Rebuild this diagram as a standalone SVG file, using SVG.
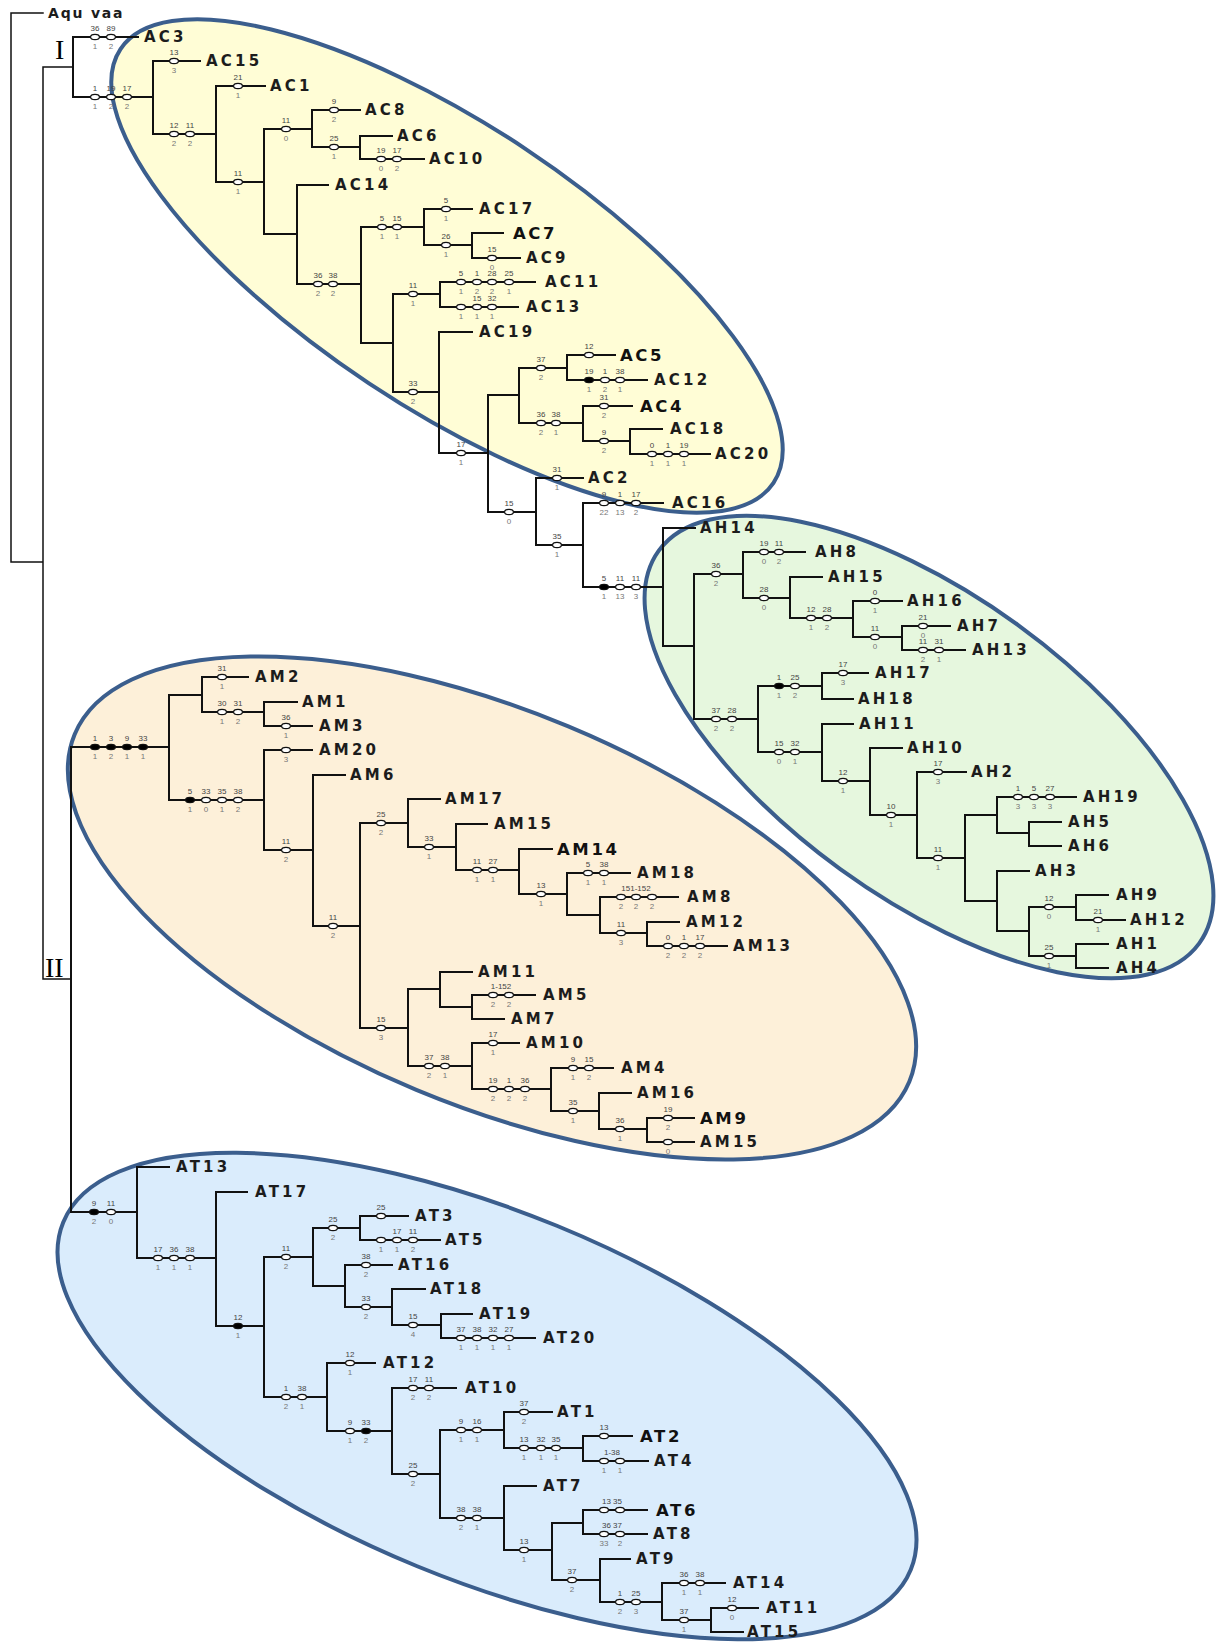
<svg xmlns="http://www.w3.org/2000/svg" xmlns:xlink="http://www.w3.org/1999/xlink" width="1217" height="1642" viewBox="0 0 1217 1642">
<style>
.bg{stroke:#3b5e8d;stroke-width:4}
.br{fill:none;stroke:#111;stroke-width:2;stroke-linecap:square}
.rt{fill:none;stroke:#111;stroke-width:1.5;stroke-linecap:square}
.mo{fill:#fff;stroke:#111;stroke-width:1.2}
.mf{fill:#000;stroke:#111;stroke-width:1.2}
.lb{font-family:'DejaVu Sans',sans-serif;font-weight:bold;font-size:15px;letter-spacing:3.2px;fill:#1c1c1c}
.bigl{font-size:16.5px;letter-spacing:2.6px;fill:#111}
.rn{font-family:'Liberation Serif',serif;font-size:28px;fill:#000}
.a{font-family:'Liberation Sans',sans-serif;font-size:8px;fill:#444;text-anchor:middle}
.b{font-family:'Liberation Sans',sans-serif;font-size:8px;fill:#777;text-anchor:middle}
</style>
<defs>
<ellipse id="o" cx="0" cy="0" rx="4.4" ry="2.7" class="mo"/>
<ellipse id="f" cx="0" cy="0" rx="4.4" ry="2.7" class="mf"/>
</defs>
<rect width="1217" height="1642" fill="#fff"/>
<g id="groups">
<ellipse class="bg" fill="#fffdd6" cx="447" cy="266" rx="392" ry="141" transform="rotate(33.6 447 266)"/>
<ellipse class="bg" fill="#e6f7de" cx="929" cy="747" rx="334" ry="151" transform="rotate(36 929 747)"/>
<ellipse class="bg" fill="#fdf0d9" cx="492" cy="908" rx="452" ry="197" transform="rotate(22.6 492 908)"/>
<ellipse class="bg" fill="#daecfc" cx="487" cy="1396" rx="458" ry="184" transform="rotate(22.3 487 1396)"/>
</g>
<g id="connectors">
<path class="rt" d="M43,13H11V562H43 M43,67V979 M43,67H73 M43,979H71"/>
<path class="br" d="M73,37V97 M73,37H138 M73,97H153
M153,61V134 M153,61H200 M153,134H216
M216,86V182 M216,86H265 M216,182H264
M264,129V234 M264,129H312 M264,234H297
M312,110V147 M312,110H360 M312,147H360
M360,136V159 M360,136H392 M360,159H424
M297,185V284 M297,185H328 M297,284H361
M361,227V343 M361,227H424 M361,343H393
M424,209V245 M424,209H472 M424,245H472
M472,233V258 M472,233H503 M472,258H520
M393,294V392 M393,294H440 M393,392H439
M440,282V307 M440,282H535 M440,307H518
M439,332V453 M439,332H472 M439,453H488
M488,395V512 M488,395H519 M488,512H536
M519,368V423 M519,368H567 M519,423H583
M567,355V380 M567,355H615 M567,380H647
M583,406V441 M583,406H632 M583,441H630
M630,429V454 M630,429H662 M630,454H710
M536,478V545 M536,478H583 M536,545H583
M583,503V587 M583,503H663 M583,587H663"/>
<path class="br" d="M663,528V646 M663,528H695 M663,646H694
M694,574V719 M694,574H743 M694,719H758
M743,552V598 M743,552H805 M743,598H790
M790,577V618 M790,577H822 M790,618H853
M853,601V637 M853,601H902 M853,637H902
M902,626V650 M902,626H950 M902,650H965
M758,686V752 M758,686H822 M758,752H822
M822,673V699 M822,673H868 M822,699H853
M822,724V781 M822,724H853 M822,781H870
M870,748V815 M870,748H902 M870,815H917
M917,772V858 M917,772H966 M917,858H965
M965,815V901 M965,815H997 M965,901H997
M997,797V833 M997,797H1076 M997,833H1029
M1029,822V846 M1029,822H1061 M1029,846H1061
M997,871V931 M997,871H1029 M997,931H1029
M1029,907V956 M1029,907H1076 M1029,956H1076
M1076,895V920 M1076,895H1108 M1076,920H1125
M1076,944V968 M1076,944H1108 M1076,968H1108"/>
<path class="br" d="M71,747V1212 M71,747H169
M169,695V800 M169,695H202 M169,800H264
M202,677V712 M202,677H248 M202,712H264
M264,702V726 M264,702H297 M264,726H312
M264,750V850 M264,750H312 M264,850H313
M313,775V926 M313,775H345 M313,926H360
M360,823V1028 M360,823H408 M360,1028H408
M408,799V847 M408,799H440 M408,847H456
M456,824V870 M456,824H487 M456,870H519
M519,849V894 M519,849H552 M519,894H567
M567,873V915 M567,873H630 M567,915H600
M600,897V933 M600,897H678 M600,933H647
M647,922V946 M647,922H679 M647,946H727
M408,989V1066 M408,989H440 M408,1066H472
M440,972V1007 M440,972H472 M440,1007H472
M472,995V1019 M472,995H535 M472,1019H504
M472,1043V1089 M472,1043H519 M472,1089H551
M551,1068V1111 M551,1068H613 M551,1111H599
M599,1093V1129 M599,1093H631 M599,1129H647
M647,1118V1142 M647,1118H694 M647,1142H694"/>
<path class="br" d="M71,1212H137
M137,1167V1258 M137,1167H169 M137,1258H216
M216,1192V1326 M216,1192H247 M216,1326H264
M264,1257V1397 M264,1257H313 M264,1397H327
M313,1228V1286 M313,1228H360 M313,1286H345
M360,1216V1240 M360,1216H408 M360,1240H440
M345,1265V1307 M345,1265H392 M345,1307H392
M392,1289V1325 M392,1289H425 M392,1325H441
M441,1314V1338 M441,1314H472 M441,1338H535
M327,1363V1431 M327,1363H375 M327,1431H392
M392,1388V1474 M392,1388H456 M392,1474H440
M440,1430V1518 M440,1430H504 M440,1518H504
M504,1412V1448 M504,1412H552 M504,1448H583
M583,1436V1461 M583,1436H632 M583,1461H648
M504,1486V1550 M504,1486H536 M504,1550H552
M552,1523V1580 M552,1523H583 M552,1580H600
M583,1510V1534 M583,1510H647 M583,1534H647
M600,1559V1602 M600,1559H630 M600,1602H662
M662,1583V1620 M662,1583H725 M662,1620H711
M711,1608V1632 M711,1608H758 M711,1632H743"/>
<g id="markers">
<use href="#o" x="95" y="37"/><use href="#o" x="111" y="37"/>
<use href="#o" x="95" y="97"/><use href="#o" x="111" y="97"/><use href="#o" x="127" y="97"/>
<use href="#o" x="174" y="61"/>
<use href="#o" x="174" y="134"/><use href="#o" x="190" y="134"/>
<use href="#o" x="238" y="86"/><use href="#o" x="238" y="182"/>
<use href="#o" x="286" y="129"/><use href="#o" x="334" y="110"/><use href="#o" x="334" y="147"/>
<use href="#o" x="381" y="159"/><use href="#o" x="397" y="159"/>
<use href="#o" x="318" y="284"/><use href="#o" x="333" y="284"/>
<use href="#o" x="382" y="227"/><use href="#o" x="397" y="227"/>
<use href="#o" x="446" y="209"/><use href="#o" x="446" y="245"/><use href="#o" x="492" y="258"/>
<use href="#o" x="413" y="294"/>
<use href="#o" x="461" y="282"/><use href="#o" x="477" y="282"/><use href="#o" x="492" y="282"/><use href="#o" x="509" y="282"/>
<use href="#o" x="461" y="307"/><use href="#o" x="477" y="307"/><use href="#o" x="492" y="307"/>
<use href="#o" x="413" y="392"/><use href="#o" x="461" y="453"/><use href="#o" x="541" y="368"/>
<use href="#o" x="589" y="355"/>
<use href="#f" x="589" y="380"/><use href="#o" x="605" y="380"/><use href="#o" x="620" y="380"/>
<use href="#o" x="541" y="423"/><use href="#o" x="556" y="423"/>
<use href="#o" x="604" y="406"/><use href="#o" x="604" y="441"/>
<use href="#o" x="652" y="454"/><use href="#o" x="668" y="454"/><use href="#o" x="684" y="454"/>
<use href="#o" x="509" y="512"/><use href="#o" x="557" y="478"/><use href="#o" x="557" y="545"/>
<use href="#o" x="604" y="503"/><use href="#o" x="620" y="503"/><use href="#o" x="636" y="503"/>
<use href="#f" x="604" y="587"/><use href="#o" x="620" y="587"/><use href="#o" x="636" y="587"/>
<use href="#o" x="716" y="574"/>
<use href="#o" x="764" y="552"/><use href="#o" x="779" y="552"/>
<use href="#o" x="764" y="598"/>
<use href="#o" x="811" y="618"/><use href="#o" x="827" y="618"/>
<use href="#o" x="875" y="601"/><use href="#o" x="875" y="637"/><use href="#o" x="923" y="626"/>
<use href="#o" x="923" y="650"/><use href="#o" x="939" y="650"/>
<use href="#o" x="716" y="719"/><use href="#o" x="732" y="719"/>
<use href="#f" x="779" y="686"/><use href="#o" x="795" y="686"/>
<use href="#o" x="843" y="673"/>
<use href="#o" x="779" y="752"/><use href="#o" x="795" y="752"/>
<use href="#o" x="843" y="781"/><use href="#o" x="891" y="815"/><use href="#o" x="938" y="772"/><use href="#o" x="938" y="858"/>
<use href="#o" x="1018" y="797"/><use href="#o" x="1034" y="797"/><use href="#o" x="1050" y="797"/>
<use href="#o" x="1049" y="907"/><use href="#o" x="1098" y="920"/><use href="#o" x="1049" y="956"/>
<use href="#f" x="95" y="747"/><use href="#f" x="111" y="747"/><use href="#f" x="127" y="747"/><use href="#f" x="143" y="747"/>
<use href="#o" x="222" y="677"/>
<use href="#o" x="222" y="712"/><use href="#o" x="238" y="712"/>
<use href="#o" x="286" y="726"/>
<use href="#f" x="190" y="800"/><use href="#o" x="206" y="800"/><use href="#o" x="222" y="800"/><use href="#o" x="238" y="800"/>
<use href="#o" x="286" y="750"/><use href="#o" x="286" y="850"/><use href="#o" x="333" y="926"/>
<use href="#o" x="381" y="823"/><use href="#o" x="429" y="847"/>
<use href="#o" x="477" y="870"/><use href="#o" x="493" y="870"/>
<use href="#o" x="541" y="894"/>
<use href="#o" x="588" y="873"/><use href="#o" x="604" y="873"/>
<use href="#o" x="621" y="897"/><use href="#o" x="636" y="897"/><use href="#o" x="652" y="897"/>
<use href="#o" x="621" y="933"/>
<use href="#o" x="668" y="946"/><use href="#o" x="684" y="946"/><use href="#o" x="700" y="946"/>
<use href="#o" x="381" y="1028"/>
<use href="#o" x="493" y="995"/><use href="#o" x="509" y="995"/>
<use href="#o" x="429" y="1066"/><use href="#o" x="445" y="1066"/>
<use href="#o" x="493" y="1043"/>
<use href="#o" x="493" y="1089"/><use href="#o" x="509" y="1089"/><use href="#o" x="525" y="1089"/>
<use href="#o" x="573" y="1068"/><use href="#o" x="589" y="1068"/>
<use href="#o" x="573" y="1111"/><use href="#o" x="620" y="1129"/>
<use href="#o" x="668" y="1118"/><use href="#o" x="668" y="1142"/>
<use href="#f" x="94" y="1212"/><use href="#o" x="111" y="1212"/>
<use href="#o" x="158" y="1258"/><use href="#o" x="174" y="1258"/><use href="#o" x="190" y="1258"/>
<use href="#f" x="238" y="1326"/>
<use href="#o" x="286" y="1257"/><use href="#o" x="333" y="1228"/><use href="#o" x="381" y="1216"/>
<use href="#o" x="381" y="1240"/><use href="#o" x="397" y="1240"/><use href="#o" x="413" y="1240"/>
<use href="#o" x="366" y="1265"/><use href="#o" x="366" y="1307"/><use href="#o" x="413" y="1325"/>
<use href="#o" x="461" y="1338"/><use href="#o" x="477" y="1338"/><use href="#o" x="493" y="1338"/><use href="#o" x="509" y="1338"/>
<use href="#o" x="286" y="1397"/><use href="#o" x="302" y="1397"/>
<use href="#o" x="350" y="1363"/>
<use href="#o" x="350" y="1431"/><use href="#f" x="366" y="1431"/>
<use href="#o" x="413" y="1388"/><use href="#o" x="429" y="1388"/>
<use href="#o" x="413" y="1474"/>
<use href="#o" x="461" y="1430"/><use href="#o" x="477" y="1430"/>
<use href="#o" x="524" y="1412"/>
<use href="#o" x="524" y="1448"/><use href="#o" x="541" y="1448"/><use href="#o" x="556" y="1448"/>
<use href="#o" x="604" y="1436"/>
<use href="#o" x="604" y="1461"/><use href="#o" x="620" y="1461"/>
<use href="#o" x="461" y="1518"/><use href="#o" x="477" y="1518"/>
<use href="#o" x="524" y="1550"/>
<use href="#o" x="604" y="1510"/><use href="#o" x="620" y="1510"/>
<use href="#o" x="604" y="1534"/><use href="#o" x="620" y="1534"/>
<use href="#o" x="572" y="1580"/>
<use href="#o" x="620" y="1602"/><use href="#o" x="636" y="1602"/>
<use href="#o" x="684" y="1583"/><use href="#o" x="700" y="1583"/>
<use href="#o" x="684" y="1620"/><use href="#o" x="732" y="1608"/>
</g>
</g>
<g id="marker-labels">
<text class="a" x="95" y="31">36</text><text class="b" x="95" y="49">1</text><text class="a" x="111" y="31">89</text><text class="b" x="111" y="49">2</text>
<text class="a" x="95" y="91">1</text><text class="b" x="95" y="109">1</text><text class="a" x="111" y="91">19</text><text class="b" x="111" y="109">2</text><text class="a" x="127" y="91">17</text><text class="b" x="127" y="109">2</text>
<text class="a" x="174" y="55">13</text><text class="b" x="174" y="73">3</text>
<text class="a" x="174" y="128">12</text><text class="b" x="174" y="146">2</text><text class="a" x="190" y="128">11</text><text class="b" x="190" y="146">2</text>
<text class="a" x="238" y="80">21</text><text class="b" x="238" y="98">1</text>
<text class="a" x="238" y="176">11</text><text class="b" x="238" y="194">1</text>
<text class="a" x="286" y="123">11</text><text class="b" x="286" y="141">0</text>
<text class="a" x="334" y="104">9</text><text class="b" x="334" y="122">2</text>
<text class="a" x="334" y="141">25</text><text class="b" x="334" y="159">1</text>
<text class="a" x="381" y="153">19</text><text class="b" x="381" y="171">0</text><text class="a" x="397" y="153">17</text><text class="b" x="397" y="171">2</text>
<text class="a" x="318" y="278">36</text><text class="b" x="318" y="296">2</text><text class="a" x="333" y="278">38</text><text class="b" x="333" y="296">2</text>
<text class="a" x="382" y="221">5</text><text class="b" x="382" y="239">1</text><text class="a" x="397" y="221">15</text><text class="b" x="397" y="239">1</text>
<text class="a" x="446" y="203">5</text><text class="b" x="446" y="221">1</text>
<text class="a" x="446" y="239">26</text><text class="b" x="446" y="257">1</text>
<text class="a" x="492" y="252">15</text><text class="b" x="492" y="270">0</text>
<text class="a" x="413" y="288">11</text><text class="b" x="413" y="306">1</text>
<text class="a" x="461" y="276">5</text><text class="a" x="477" y="276">1</text><text class="a" x="492" y="276">28</text><text class="a" x="509" y="276">25</text>
<text class="b" x="461" y="294">1</text><text class="b" x="477" y="294">2</text><text class="b" x="492" y="294">2</text><text class="b" x="509" y="294">1</text>
<text class="a" x="477" y="301">15</text><text class="a" x="492" y="301">32</text>
<text class="b" x="461" y="319">1</text><text class="b" x="477" y="319">1</text><text class="b" x="492" y="319">1</text>
<text class="a" x="413" y="386">33</text><text class="b" x="413" y="404">2</text>
<text class="a" x="461" y="447">17</text><text class="b" x="461" y="465">1</text>
<text class="a" x="541" y="362">37</text><text class="b" x="541" y="380">2</text>
<text class="a" x="589" y="349">12</text>
<text class="a" x="589" y="374">19</text><text class="a" x="605" y="374">1</text><text class="a" x="620" y="374">38</text>
<text class="b" x="589" y="392">1</text><text class="b" x="605" y="392">2</text><text class="b" x="620" y="392">1</text>
<text class="a" x="541" y="417">36</text><text class="b" x="541" y="435">2</text><text class="a" x="556" y="417">38</text><text class="b" x="556" y="435">1</text>
<text class="a" x="604" y="400">31</text><text class="b" x="604" y="418">2</text>
<text class="a" x="604" y="435">9</text><text class="b" x="604" y="453">2</text>
<text class="a" x="652" y="448">0</text><text class="a" x="668" y="448">1</text><text class="a" x="684" y="448">19</text>
<text class="b" x="652" y="466">1</text><text class="b" x="668" y="466">1</text><text class="b" x="684" y="466">1</text>
<text class="a" x="509" y="506">15</text><text class="b" x="509" y="524">0</text>
<text class="a" x="557" y="472">31</text><text class="b" x="557" y="490">1</text>
<text class="a" x="557" y="539">35</text><text class="b" x="557" y="557">1</text>
<text class="a" x="604" y="497">9</text><text class="a" x="620" y="497">1</text><text class="a" x="636" y="497">17</text>
<text class="b" x="604" y="515">22</text><text class="b" x="620" y="515">13</text><text class="b" x="636" y="515">2</text>
<text class="a" x="604" y="581">5</text><text class="a" x="620" y="581">11</text><text class="a" x="636" y="581">11</text>
<text class="b" x="604" y="599">1</text><text class="b" x="620" y="599">13</text><text class="b" x="636" y="599">3</text>
<text class="a" x="716" y="568">36</text><text class="b" x="716" y="586">2</text>
<text class="a" x="764" y="546">19</text><text class="b" x="764" y="564">0</text><text class="a" x="779" y="546">11</text><text class="b" x="779" y="564">2</text>
<text class="a" x="764" y="592">28</text><text class="b" x="764" y="610">0</text>
<text class="a" x="811" y="612">12</text><text class="b" x="811" y="630">1</text><text class="a" x="827" y="612">28</text><text class="b" x="827" y="630">2</text>
<text class="a" x="875" y="595">0</text><text class="b" x="875" y="613">1</text>
<text class="a" x="875" y="631">11</text><text class="b" x="875" y="649">0</text>
<text class="a" x="923" y="620">21</text><text class="b" x="923" y="638">0</text>
<text class="a" x="923" y="644">11</text><text class="b" x="923" y="662">2</text><text class="a" x="939" y="644">31</text><text class="b" x="939" y="662">1</text>
<text class="a" x="716" y="713">37</text><text class="b" x="716" y="731">2</text><text class="a" x="732" y="713">28</text><text class="b" x="732" y="731">2</text>
<text class="a" x="779" y="680">1</text><text class="b" x="779" y="698">1</text><text class="a" x="795" y="680">25</text><text class="b" x="795" y="698">2</text>
<text class="a" x="843" y="667">17</text><text class="b" x="843" y="685">3</text>
<text class="a" x="779" y="746">15</text><text class="b" x="779" y="764">0</text><text class="a" x="795" y="746">32</text><text class="b" x="795" y="764">1</text>
<text class="a" x="843" y="775">12</text><text class="b" x="843" y="793">1</text>
<text class="a" x="891" y="809">10</text><text class="b" x="891" y="827">1</text>
<text class="a" x="938" y="766">17</text><text class="b" x="938" y="784">3</text>
<text class="a" x="938" y="852">11</text><text class="b" x="938" y="870">1</text>
<text class="a" x="1018" y="791">1</text><text class="a" x="1034" y="791">5</text><text class="a" x="1050" y="791">27</text>
<text class="b" x="1018" y="809">3</text><text class="b" x="1034" y="809">3</text><text class="b" x="1050" y="809">3</text>
<text class="a" x="1049" y="901">12</text><text class="b" x="1049" y="919">0</text>
<text class="a" x="1098" y="914">21</text><text class="b" x="1098" y="932">1</text>
<text class="a" x="1049" y="950">25</text><text class="b" x="1049" y="968">1</text>
<text class="a" x="95" y="741">1</text><text class="a" x="111" y="741">3</text><text class="a" x="127" y="741">9</text><text class="a" x="143" y="741">33</text>
<text class="b" x="95" y="759">1</text><text class="b" x="111" y="759">2</text><text class="b" x="127" y="759">1</text><text class="b" x="143" y="759">1</text>
<text class="a" x="222" y="671">31</text><text class="b" x="222" y="689">1</text>
<text class="a" x="222" y="706">30</text><text class="b" x="222" y="724">1</text><text class="a" x="238" y="706">31</text><text class="b" x="238" y="724">2</text>
<text class="a" x="286" y="720">36</text><text class="b" x="286" y="738">1</text>
<text class="a" x="190" y="794">5</text><text class="a" x="206" y="794">33</text><text class="a" x="222" y="794">35</text><text class="a" x="238" y="794">38</text>
<text class="b" x="190" y="812">1</text><text class="b" x="206" y="812">0</text><text class="b" x="222" y="812">1</text><text class="b" x="238" y="812">2</text>
<text class="b" x="286" y="762">3</text>
<text class="a" x="286" y="844">11</text><text class="b" x="286" y="862">2</text>
<text class="a" x="333" y="920">11</text><text class="b" x="333" y="938">2</text>
<text class="a" x="381" y="817">25</text><text class="b" x="381" y="835">2</text>
<text class="a" x="429" y="841">33</text><text class="b" x="429" y="859">1</text>
<text class="a" x="477" y="864">11</text><text class="b" x="477" y="882">1</text><text class="a" x="493" y="864">27</text><text class="b" x="493" y="882">1</text>
<text class="a" x="541" y="888">13</text><text class="b" x="541" y="906">1</text>
<text class="a" x="588" y="867">5</text><text class="b" x="588" y="885">1</text><text class="a" x="604" y="867">38</text><text class="b" x="604" y="885">1</text>
<text class="a" x="636" y="891">151-152</text>
<text class="b" x="621" y="909">2</text><text class="b" x="636" y="909">2</text><text class="b" x="652" y="909">2</text>
<text class="a" x="621" y="927">11</text><text class="b" x="621" y="945">3</text>
<text class="a" x="668" y="940">0</text><text class="a" x="684" y="940">1</text><text class="a" x="700" y="940">17</text>
<text class="b" x="668" y="958">2</text><text class="b" x="684" y="958">2</text><text class="b" x="700" y="958">2</text>
<text class="a" x="381" y="1022">15</text><text class="b" x="381" y="1040">3</text>
<text class="a" x="501" y="989">1-152</text><text class="b" x="493" y="1007">2</text><text class="b" x="509" y="1007">2</text>
<text class="a" x="429" y="1060">37</text><text class="b" x="429" y="1078">2</text><text class="a" x="445" y="1060">38</text><text class="b" x="445" y="1078">1</text>
<text class="a" x="493" y="1037">17</text><text class="b" x="493" y="1055">1</text>
<text class="a" x="493" y="1083">19</text><text class="a" x="509" y="1083">1</text><text class="a" x="525" y="1083">36</text>
<text class="b" x="493" y="1101">2</text><text class="b" x="509" y="1101">2</text><text class="b" x="525" y="1101">2</text>
<text class="a" x="573" y="1062">9</text><text class="b" x="573" y="1080">1</text><text class="a" x="589" y="1062">15</text><text class="b" x="589" y="1080">2</text>
<text class="a" x="573" y="1105">35</text><text class="b" x="573" y="1123">1</text>
<text class="a" x="620" y="1123">36</text><text class="b" x="620" y="1141">1</text>
<text class="a" x="668" y="1112">19</text><text class="b" x="668" y="1130">2</text>
<text class="b" x="668" y="1154">0</text>
<text class="a" x="94" y="1206">9</text><text class="b" x="94" y="1224">2</text><text class="a" x="111" y="1206">11</text><text class="b" x="111" y="1224">0</text>
<text class="a" x="158" y="1252">17</text><text class="a" x="174" y="1252">36</text><text class="a" x="190" y="1252">38</text>
<text class="b" x="158" y="1270">1</text><text class="b" x="174" y="1270">1</text><text class="b" x="190" y="1270">1</text>
<text class="a" x="238" y="1320">12</text><text class="b" x="238" y="1338">1</text>
<text class="a" x="286" y="1251">11</text><text class="b" x="286" y="1269">2</text>
<text class="a" x="333" y="1222">25</text><text class="b" x="333" y="1240">2</text>
<text class="a" x="381" y="1210">25</text>
<text class="a" x="397" y="1234">17</text><text class="a" x="413" y="1234">11</text>
<text class="b" x="381" y="1252">1</text><text class="b" x="397" y="1252">1</text><text class="b" x="413" y="1252">2</text>
<text class="a" x="366" y="1259">38</text><text class="b" x="366" y="1277">2</text>
<text class="a" x="366" y="1301">33</text><text class="b" x="366" y="1319">2</text>
<text class="a" x="413" y="1319">15</text><text class="b" x="413" y="1337">4</text>
<text class="a" x="461" y="1332">37</text><text class="a" x="477" y="1332">38</text><text class="a" x="493" y="1332">32</text><text class="a" x="509" y="1332">27</text>
<text class="b" x="461" y="1350">1</text><text class="b" x="477" y="1350">1</text><text class="b" x="493" y="1350">1</text><text class="b" x="509" y="1350">1</text>
<text class="a" x="286" y="1391">1</text><text class="b" x="286" y="1409">2</text><text class="a" x="302" y="1391">38</text><text class="b" x="302" y="1409">1</text>
<text class="a" x="350" y="1357">12</text><text class="b" x="350" y="1375">1</text>
<text class="a" x="350" y="1425">9</text><text class="b" x="350" y="1443">1</text><text class="a" x="366" y="1425">33</text><text class="b" x="366" y="1443">2</text>
<text class="a" x="413" y="1382">17</text><text class="b" x="413" y="1400">2</text><text class="a" x="429" y="1382">11</text><text class="b" x="429" y="1400">2</text>
<text class="a" x="413" y="1468">25</text><text class="b" x="413" y="1486">2</text>
<text class="a" x="461" y="1424">9</text><text class="b" x="461" y="1442">1</text><text class="a" x="477" y="1424">16</text><text class="b" x="477" y="1442">1</text>
<text class="a" x="524" y="1406">37</text><text class="b" x="524" y="1424">2</text>
<text class="a" x="524" y="1442">13</text><text class="a" x="541" y="1442">32</text><text class="a" x="556" y="1442">35</text>
<text class="b" x="524" y="1460">1</text><text class="b" x="541" y="1460">1</text><text class="b" x="556" y="1460">1</text>
<text class="a" x="604" y="1430">13</text>
<text class="a" x="612" y="1455">1-38</text><text class="b" x="604" y="1473">1</text><text class="b" x="620" y="1473">1</text>
<text class="a" x="461" y="1512">38</text><text class="b" x="461" y="1530">2</text><text class="a" x="477" y="1512">38</text><text class="b" x="477" y="1530">1</text>
<text class="a" x="524" y="1544">13</text><text class="b" x="524" y="1562">1</text>
<text class="a" x="612" y="1504">13 35</text>
<text class="a" x="612" y="1528">36 37</text><text class="b" x="604" y="1546">33</text><text class="b" x="620" y="1546">2</text>
<text class="a" x="572" y="1574">37</text><text class="b" x="572" y="1592">2</text>
<text class="a" x="620" y="1596">1</text><text class="b" x="620" y="1614">2</text><text class="a" x="636" y="1596">25</text><text class="b" x="636" y="1614">3</text>
<text class="a" x="684" y="1577">36</text><text class="b" x="684" y="1595">1</text><text class="a" x="700" y="1577">38</text><text class="b" x="700" y="1595">1</text>
<text class="a" x="684" y="1614">37</text><text class="b" x="684" y="1632">1</text>
<text class="a" x="732" y="1602">12</text><text class="b" x="732" y="1620">0</text>
</g>
<text class="rn" x="55" y="59">I</text>
<text class="rn" x="45" y="977">II</text>
<g id="n-outgroup"><text class="lb" x="48" y="18" style="font-size:14px;letter-spacing:1.8px">Aqu vaa</text></g>
<g id="n-AC3"><text class="lb" x="144" y="42">AC3</text></g>
<g id="n-AC15"><text class="lb" x="206" y="66">AC15</text></g>
<g id="n-AC1"><text class="lb" x="270" y="91">AC1</text></g>
<g id="n-AC8"><text class="lb" x="365" y="115">AC8</text></g>
<g id="n-AC6"><text class="lb" x="397" y="141">AC6</text></g>
<g id="n-AC10"><text class="lb" x="429" y="164">AC10</text></g>
<g id="n-AC14"><text class="lb" x="335" y="190">AC14</text></g>
<g id="n-AC17"><text class="lb" x="479" y="214">AC17</text></g>
<g id="n-AC7"><text class="lb bigl" x="513" y="239">AC7</text></g>
<g id="n-AC9"><text class="lb" x="526" y="263">AC9</text></g>
<g id="n-AC11"><text class="lb" x="545" y="287">AC11</text></g>
<g id="n-AC13"><text class="lb" x="526" y="312">AC13</text></g>
<g id="n-AC19"><text class="lb" x="479" y="337">AC19</text></g>
<g id="n-AC5"><text class="lb bigl" x="620" y="361">AC5</text></g>
<g id="n-AC12"><text class="lb" x="654" y="385">AC12</text></g>
<g id="n-AC4"><text class="lb bigl" x="640" y="412">AC4</text></g>
<g id="n-AC18"><text class="lb" x="670" y="434">AC18</text></g>
<g id="n-AC20"><text class="lb" x="715" y="459">AC20</text></g>
<g id="n-AC2"><text class="lb" x="588" y="483">AC2</text></g>
<g id="n-AC16"><text class="lb" x="672" y="508">AC16</text></g>
<g id="n-AH14"><text class="lb" x="700" y="533">AH14</text></g>
<g id="n-AH8"><text class="lb" x="815" y="557">AH8</text></g>
<g id="n-AH15"><text class="lb" x="828" y="582">AH15</text></g>
<g id="n-AH16"><text class="lb" x="907" y="606">AH16</text></g>
<g id="n-AH7"><text class="lb" x="957" y="631">AH7</text></g>
<g id="n-AH13"><text class="lb" x="972" y="655">AH13</text></g>
<g id="n-AH17"><text class="lb" x="875" y="678">AH17</text></g>
<g id="n-AH18"><text class="lb" x="858" y="704">AH18</text></g>
<g id="n-AH11"><text class="lb" x="859" y="729">AH11</text></g>
<g id="n-AH10"><text class="lb" x="907" y="753">AH10</text></g>
<g id="n-AH2"><text class="lb" x="971" y="777">AH2</text></g>
<g id="n-AH19"><text class="lb" x="1083" y="802">AH19</text></g>
<g id="n-AH5"><text class="lb" x="1068" y="827">AH5</text></g>
<g id="n-AH6"><text class="lb" x="1068" y="851">AH6</text></g>
<g id="n-AH3"><text class="lb" x="1035" y="876">AH3</text></g>
<g id="n-AH9"><text class="lb" x="1116" y="900">AH9</text></g>
<g id="n-AH12"><text class="lb" x="1130" y="925">AH12</text></g>
<g id="n-AH1"><text class="lb" x="1116" y="949">AH1</text></g>
<g id="n-AH4"><text class="lb" x="1116" y="973">AH4</text></g>
<g id="n-AM2"><text class="lb" x="255" y="682">AM2</text></g>
<g id="n-AM1"><text class="lb" x="302" y="707">AM1</text></g>
<g id="n-AM3"><text class="lb" x="319" y="731">AM3</text></g>
<g id="n-AM20"><text class="lb" x="319" y="755">AM20</text></g>
<g id="n-AM6"><text class="lb" x="350" y="780">AM6</text></g>
<g id="n-AM17"><text class="lb" x="445" y="804">AM17</text></g>
<g id="n-AM15a"><text class="lb" x="494" y="829">AM15</text></g>
<g id="n-AM14"><text class="lb bigl" x="557" y="855">AM14</text></g>
<g id="n-AM18"><text class="lb" x="637" y="878">AM18</text></g>
<g id="n-AM8"><text class="lb" x="687" y="902">AM8</text></g>
<g id="n-AM12"><text class="lb" x="686" y="927">AM12</text></g>
<g id="n-AM13"><text class="lb" x="733" y="951">AM13</text></g>
<g id="n-AM11"><text class="lb" x="478" y="977">AM11</text></g>
<g id="n-AM5"><text class="lb" x="543" y="1000">AM5</text></g>
<g id="n-AM7"><text class="lb" x="511" y="1024">AM7</text></g>
<g id="n-AM10"><text class="lb" x="526" y="1048">AM10</text></g>
<g id="n-AM4"><text class="lb" x="621" y="1073">AM4</text></g>
<g id="n-AM16"><text class="lb" x="637" y="1098">AM16</text></g>
<g id="n-AM9"><text class="lb bigl" x="700" y="1124">AM9</text></g>
<g id="n-AM15b"><text class="lb" x="700" y="1147">AM15</text></g>
<g id="n-AT13"><text class="lb" x="176" y="1172">AT13</text></g>
<g id="n-AT17"><text class="lb" x="255" y="1197">AT17</text></g>
<g id="n-AT3"><text class="lb" x="415" y="1221">AT3</text></g>
<g id="n-AT5"><text class="lb" x="445" y="1245">AT5</text></g>
<g id="n-AT16"><text class="lb" x="398" y="1270">AT16</text></g>
<g id="n-AT18"><text class="lb" x="430" y="1294">AT18</text></g>
<g id="n-AT19"><text class="lb" x="479" y="1319">AT19</text></g>
<g id="n-AT20"><text class="lb" x="543" y="1343">AT20</text></g>
<g id="n-AT12"><text class="lb" x="383" y="1368">AT12</text></g>
<g id="n-AT10"><text class="lb" x="465" y="1393">AT10</text></g>
<g id="n-AT1"><text class="lb" x="557" y="1417">AT1</text></g>
<g id="n-AT2"><text class="lb bigl" x="640" y="1442">AT2</text></g>
<g id="n-AT4"><text class="lb" x="654" y="1466">AT4</text></g>
<g id="n-AT7"><text class="lb" x="543" y="1491">AT7</text></g>
<g id="n-AT6"><text class="lb bigl" x="656" y="1516">AT6</text></g>
<g id="n-AT8"><text class="lb" x="653" y="1539">AT8</text></g>
<g id="n-AT9"><text class="lb" x="636" y="1564">AT9</text></g>
<g id="n-AT14"><text class="lb" x="733" y="1588">AT14</text></g>
<g id="n-AT11"><text class="lb" x="766" y="1613">AT11</text></g>
<g id="n-AT15"><text class="lb" x="747" y="1637">AT15</text></g>
</svg>
